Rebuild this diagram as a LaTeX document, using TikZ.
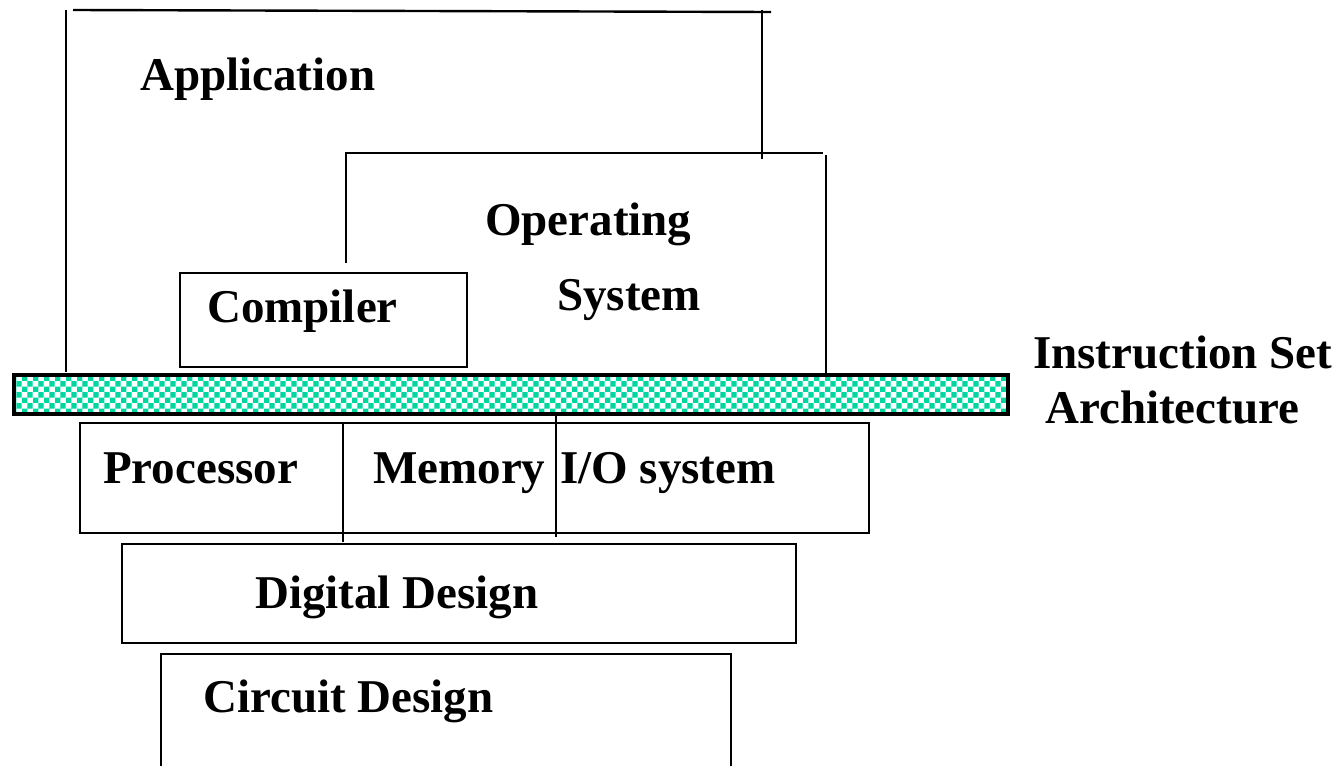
\documentclass[tikz,border=0pt]{standalone}
\usepackage{fontspec}
\setmainfont{Liberation Serif}
\usetikzlibrary{patterns}
\definecolor{isateal}{RGB}{0,214,160}
\tikzset{
  layer/.style={line width=2.4bp, black},
  label/.style={anchor=base west, inner sep=0pt, font=\fontsize{47bp}{56bp}\selectfont\bfseries},
}
\begin{document}
\begin{tikzpicture}[x=1bp, y=-1bp]
  \useasboundingbox (0,0) rectangle (1344,765);

  % Application bracket
  \draw[layer] (66,10) -- (66,372);
  \draw[layer] (73,10) -- (771,12);
  \draw[layer] (762,10) -- (762,159);

  % Operating system bracket
  \draw[layer] (346,263) -- (346,153) -- (823,153);
  \draw[layer] (826,155) -- (826,375);

  % Compiler box
  \draw[layer] (180,273) rectangle (467,367);

  % Instruction set architecture bar
  \draw[line width=3.4bp, fill=white, pattern=checkerboard, pattern color=isateal]
    (14,375) rectangle (1008,414);

  % Processor / memory / I/O row
  \draw[layer] (80,423) rectangle (869,533);
  \draw[layer] (343,423) -- (343,542);
  \draw[layer] (556,416) -- (556,537);

  % Digital design and circuit design boxes
  \draw[layer] (122,544) rectangle (796,643);
  \draw[layer] (161,766) -- (161,654) -- (731,654) -- (731,766);

  % Labels
  \node[label] (app)  at (140,90)  {Application};
  \node[label] (os1)  at (485,235) {Operating};
  \node[label] (os2)  at (557,310) {System};
  \node[label] (comp) at (207,322) {Compiler};
  \node[label] (isa1) at (1033,368) {Instruction Set};
  \node[label] (isa2) at (1045,423) {Architecture};
  \node[label] (proc) at (103,483) {Processor};
  \node[label] (mem)  at (373,483) {Memory};
  \node[label] (io)   at (560,483) {I/O system};
  \node[label] (dig)  at (255,608) {Digital Design};
  \node[label] (circ) at (203,712) {Circuit Design};
\end{tikzpicture}
\end{document}
